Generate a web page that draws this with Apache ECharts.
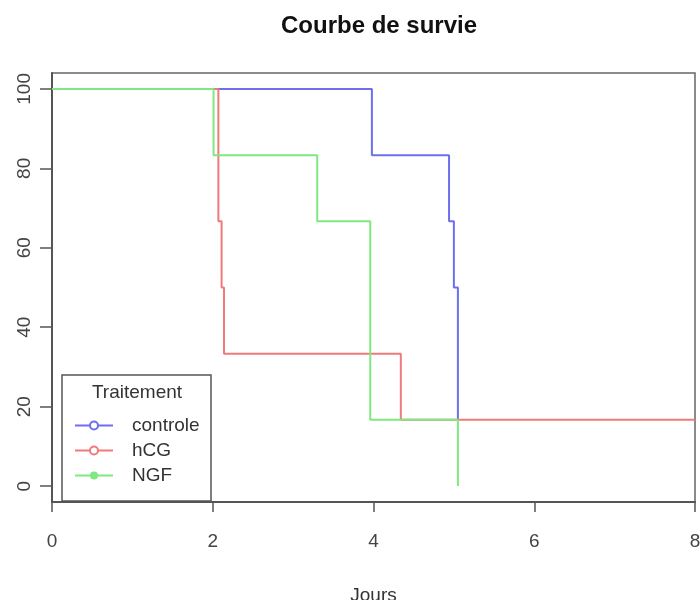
<!DOCTYPE html>
<html>
<head>
<meta charset="utf-8">
<script src="https://cdn.jsdelivr.net/npm/echarts@6/dist/echarts.min.js"></script>
<style>html,body{margin:0;padding:0;background:#fff}#c{width:700px;height:600px}</style>
</head>
<body>
<div id="c"></div>
<script>
// Kaplan-Meier step data (Jours, survie %)
const controleTimes = [0, 3.98, 4.94, 5.00, 5.05];
const controleSurv  = [100, 83.3, 66.7, 50.0, 16.7];
const hcgTimes = [0, 2.07, 2.11, 2.14, 4.34, 8];
const hcgSurv  = [100, 66.7, 50.0, 33.3, 16.7, 16.7];
const ngfTimes = [0, 2.01, 3.30, 3.96, 5.05];
const ngfSurv  = [100, 83.3, 66.7, 16.7, 0];
const seriesNames = ['controle', 'hCG', 'NGF'];
const xTicks = [0, 2, 4, 6, 8];
const yTicks = [0, 20, 40, 60, 80, 100];

const zip = (a, b) => a.map((v, i) => [v, b[i]]);
const FONT = '"Liberation Sans", Arial, sans-serif';

const chart = echarts.init(document.getElementById('c'), null, {renderer: 'canvas'});
chart.setOption({
  backgroundColor: '#fff',
  animation: false,
  textStyle: {fontFamily: FONT},
  title: {
    text: 'Courbe de survie',
    left: 374, top: 9, textAlign: 'center',
    textStyle: {fontFamily: FONT, fontSize: 24, fontWeight: 'bold', color: '#111'}
  },
  grid: {
    left: 52, right: 5, top: 73, bottom: 98,
    show: true, borderColor: '#666', borderWidth: 1.5, backgroundColor: 'transparent',
    outerBoundsMode: 'none'
  },
  xAxis: {
    type: 'value', min: 0, max: 8, interval: 2,
    name: 'Jours', nameLocation: 'middle', nameGap: 84,
    nameTextStyle: {fontFamily: FONT, fontSize: 19, color: '#333'},
    splitLine: {show: false},
    axisLine: {show: true, onZero: false, lineStyle: {color: '#555', width: 2}},
    axisTick: {show: true, inside: false, length: 10, lineStyle: {color: '#555', width: 1.5}},
    axisLabel: {show: true, margin: 30, fontSize: 19, color: '#444', fontFamily: FONT,
      customValues: xTicks, showMinLabel: true, showMaxLabel: true}
  },
  yAxis: {
    type: 'value', min: -4, max: 104,
    splitLine: {show: false},
    axisLine: {show: true, onZero: false, lineStyle: {color: '#555', width: 2}},
    axisTick: {show: true, inside: false, length: 12, customValues: yTicks, lineStyle: {color: '#555', width: 1.5}},
    axisLabel: {show: true, rotate: 90, margin: 18, fontSize: 19, color: '#444', fontFamily: FONT,
      customValues: yTicks}
  },
  legend: {
    orient: 'vertical', left: 69, top: 411,
    itemWidth: 38, itemHeight: 10, itemGap: 6,
    data: seriesNames,
    textStyle: {fontFamily: FONT, fontSize: 19, lineHeight: 19, color: '#333', padding: [0, 0, 0, 14]}
  },
  graphic: [
    {type: 'rect', z: 100, shape: {x: 62, y: 375, width: 149, height: 126},
     style: {fill: 'none', stroke: '#555', lineWidth: 1.5}},
    {type: 'text', z: 100, x: 137, y: 393,
     style: {text: 'Traitement', fontFamily: FONT, fontSize: 19, fill: '#333', align: 'center', verticalAlign: 'middle'}}
  ],
  series: [
    {name: 'controle', type: 'line', step: 'end', data: zip(controleTimes, controleSurv),
     symbol: 'emptyCircle', showSymbol: false, symbolSize: 9,
     color: '#6e6ef0', lineStyle: {width: 2, color: '#6e6ef0'}},
    {name: 'hCG', type: 'line', step: 'end', data: zip(hcgTimes, hcgSurv),
     symbol: 'emptyCircle', showSymbol: false, symbolSize: 9,
     color: '#f07a7a', lineStyle: {width: 2, color: '#f07a7a'}},
    {name: 'NGF', type: 'line', step: 'end', data: zip(ngfTimes, ngfSurv),
     symbol: 'circle', showSymbol: false, symbolSize: 9,
     color: '#80e880', lineStyle: {width: 2, color: '#80e880'}}
  ]
});
</script>
</body>
</html>
